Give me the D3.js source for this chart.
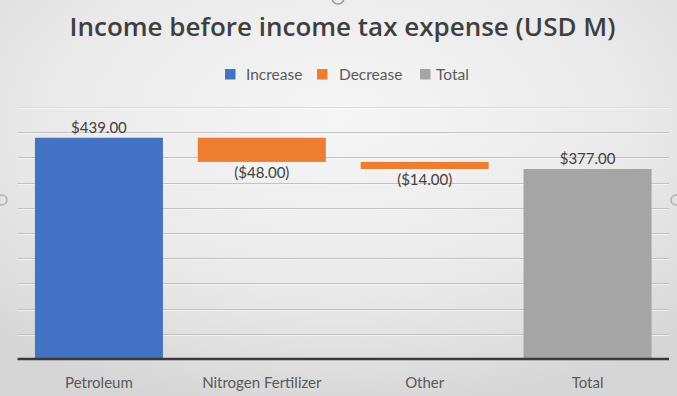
<!DOCTYPE html>
<html>
<head>
<meta charset="utf-8">
<script src="https://cdn.jsdelivr.net/npm/d3@7"></script>
<style>
  html, body { margin: 0; padding: 0; background: #e4e4e4; }
  svg { display: block; }
</style>
</head>
<body>
<svg id="chart" width="677" height="396"></svg>
<script>
// Waterfall: income before income tax expense by segment
const categories = ["Petroleum", "Nitrogen Fertilizer", "Other", "Total"];
const values = [439, -48, -14, 377];
const kinds = ["Increase", "Decrease", "Decrease", "Total"];
const labels = ["$439.00", "($48.00)", "($14.00)", "$377.00"];
const yTicks = [0, 50, 100, 150, 200, 250, 300, 350, 400, 450, 500];
const legendItems = ["Increase", "Decrease", "Total"];

const colors = { Increase: "#4472C4", Decrease: "#ED7D31", Total: "#A5A5A5" };
const font = "Lato, 'Open Sans', sans-serif";

const W = 677, H = 396;
const svg = d3.select("#chart");

// background: soft radial sheen
const defs = svg.append("defs");
const rg = defs.append("radialGradient").attr("id", "bg")
  .attr("cx", "50%").attr("cy", "30%").attr("r", "75%");
rg.append("stop").attr("offset", "0%").attr("stop-color", "#f6f6f6");
rg.append("stop").attr("offset", "60%").attr("stop-color", "#e9e9e9");
rg.append("stop").attr("offset", "100%").attr("stop-color", "#d6d6d6");
svg.append("rect").attr("width", W).attr("height", H).attr("fill", "url(#bg)");

// selection handles around the chart frame
svg.append("circle").attr("cx", 338).attr("cy", -2).attr("r", 6)
  .attr("fill", "none").attr("stroke", "#9a9a9a").attr("stroke-width", 1.5);
svg.append("circle").attr("cx", 2).attr("cy", 200).attr("r", 5)
  .attr("fill", "none").attr("stroke", "#b0b0b0").attr("stroke-width", 1.5);
svg.append("circle").attr("cx", 676).attr("cy", 200).attr("r", 5)
  .attr("fill", "none").attr("stroke", "#b0b0b0").attr("stroke-width", 1.5);

const plot = { left: 17.5, right: 669, top: 107, bottom: 359 };

const x = d3.scaleBand().domain(categories)
  .range([plot.left, plot.right]).paddingInner(0.214).paddingOuter(0.107);
const y = d3.scaleLinear().domain([0, 500]).range([plot.bottom, plot.top]);

// gridlines (the top one is only a faint edge of the plot area)
const grid = yTicks.filter(t => t > 0);
svg.append("g").selectAll("line").data(grid).join("line")
  .attr("x1", plot.left).attr("x2", plot.right)
  .attr("y1", d => Math.round(y(d)) + 0.5).attr("y2", d => Math.round(y(d)) + 0.5)
  .attr("stroke", d => d === 500 ? "#dcdcdc" : "#c2c2c2").attr("stroke-width", 1);
svg.append("g").selectAll("line").data(grid).join("line")
  .attr("x1", plot.left).attr("x2", plot.right)
  .attr("y1", d => Math.round(y(d)) + 1.5).attr("y2", d => Math.round(y(d)) + 1.5)
  .attr("stroke", "#f8f8f8").attr("stroke-width", 1).attr("opacity", 0.7);

// running totals for floating bars
let run = 0;
const bars = categories.map((c, i) => {
  let lo, hi;
  if (kinds[i] === "Total") { lo = 0; hi = values[i]; run = values[i]; }
  else { const start = run; run += values[i]; lo = Math.min(start, run); hi = Math.max(start, run); }
  return { c, kind: kinds[i], lo, hi, label: labels[i], v: values[i] };
});

svg.append("g").selectAll("rect").data(bars).join("rect")
  .attr("x", d => x(d.c)).attr("width", x.bandwidth())
  .attr("y", d => y(d.hi)).attr("height", d => y(d.lo) - y(d.hi))
  .attr("fill", d => colors[d.kind]);

// value labels: above for positive / totals, below for decreases
svg.append("g").selectAll("text").data(bars).join("text")
  .attr("x", d => x(d.c) + x.bandwidth() / 2)
  .attr("y", d => d.v < 0 ? y(d.lo) + 16 : y(d.hi) - 4.5)
  .attr("text-anchor", "middle")
  .attr("font-family", font).attr("font-size", 15).attr("fill", "#404040")
  .text(d => d.label);

// x axis
const xAxis = svg.append("g").attr("transform", `translate(0,${plot.bottom})`)
  .call(d3.axisBottom(x).tickSize(0));
xAxis.select(".domain").attr("stroke", "#3a3a3a").attr("stroke-width", 2.5)
  .attr("d", `M${plot.left},0H${plot.right}`);
xAxis.selectAll("text").attr("y", 29).attr("dy", 0)
  .attr("font-family", font).attr("font-size", 15)
  .attr("fill", "#595959");

// title
svg.append("text").attr("x", 342.5).attr("y", 36).attr("text-anchor", "middle")
  .attr("font-family", "'Open Sans', Lato, sans-serif").attr("font-weight", 600)
  .attr("font-size", 26).attr("fill", "#3f3f3f")
  .text("Income before income tax expense (USD M)");

// legend
const lg = svg.append("g");
const legendX = [225, 317, 420];
const legendTextX = [246, 339, 436];
legendItems.forEach((k, i) => {
  lg.append("rect").attr("x", legendX[i]).attr("y", 69)
    .attr("width", 10.5).attr("height", 10.5).attr("fill", colors[k]);
  lg.append("text").attr("x", legendTextX[i]).attr("y", 80).attr("font-family", font)
    .attr("font-size", 15.5).attr("fill", "#595959").text(k);
});
</script>
</body>
</html>
